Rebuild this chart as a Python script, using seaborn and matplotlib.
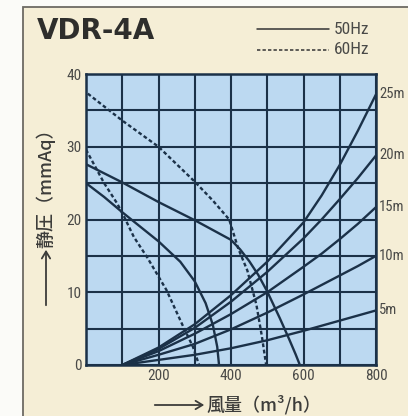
import matplotlib
matplotlib.use("Agg")
import matplotlib.pyplot as plt
import seaborn as sns
import pandas as pd
from matplotlib import font_manager as fm
from matplotlib.lines import Line2D
from matplotlib.patches import Rectangle, FancyArrowPatch
from matplotlib.ticker import FixedLocator, FixedFormatter

# ---------------- data ----------------
# 50Hz fan curves (solid)
s1_x = [0, 100, 200, 300, 400, 425, 450, 475, 500, 535, 560, 578, 590]
s1_y = [27.6, 25.1, 22.4, 19.9, 17.2, 15.9, 14.3, 12.4, 10.1, 6.4, 3.6, 1.5, 0.0]
s2_x = [0, 50, 100, 150, 200, 260, 300, 330, 350, 362, 367]
s2_y = [25.0, 23.1, 21.0, 19.0, 17.0, 14.2, 11.5, 8.5, 5.5, 2.5, 0.0]
# 60Hz fan curves (dashed)
d1_x = [5, 100, 200, 300, 350, 395, 420, 445, 470, 485, 497]
d1_y = [37.3, 33.6, 30.0, 25.2, 22.6, 20.0, 16.0, 13.0, 8.3, 4.0, 0.0]
d2_x = [0, 50, 86, 105, 132, 170, 222, 268, 295, 312]
d2_y = [29.6, 25.0, 22.2, 20.4, 17.6, 14.7, 10.3, 5.3, 2.5, 0.0]
# system resistance curves (duct length)
res_x = [100, 200, 300, 400, 500, 600, 650, 700, 750, 800]
res_5 = [0, 0.7, 1.4, 2.3, 3.4, 4.7, 5.4, 6.1, 6.8, 7.5]
res_10 = [0, 1.4, 2.9, 4.9, 7.2, 9.7, 11.0, 12.3, 13.6, 15.0]
res_15 = [0, 1.9, 4.3, 7.0, 10.0, 13.5, 15.3, 17.3, 19.4, 21.7]
res_20 = [0, 2.2, 5.1, 8.7, 12.8, 17.4, 20.0, 22.8, 25.7, 28.8]
res_25 = [0, 2.4, 5.6, 9.6, 14.2, 19.6, 23.3, 27.5, 32.2, 37.2]
res_labels = ["5m", "10m", "15m", "20m", "25m"]

x_ticks = [0, 100, 200, 300, 400, 500, 600, 700, 800]
x_tick_labels = ["", "", "200", "", "400", "", "600", "", "800"]
y_ticks = [0, 5, 10, 15, 20, 25, 30, 35, 40]
y_tick_labels = ["0", "", "10", "", "20", "", "30", "", "40"]

title = "VDR-4A"
legend_labels = ["50Hz", "60Hz"]
xlabel = "風量（m³/h）"
ylabel = "静圧（mmAq）"

# ---------------- style ----------------
def pick(cands):
    for c in cands:
        try:
            fm.findfont(fm.FontProperties(family=c), fallback_to_default=False)
            return c
        except Exception:
            pass
    return "DejaVu Sans"

sns.set_theme(style="white")
cond = pick(["Liberation Sans Narrow", "Roboto Condensed", "Liberation Sans"])
cjk = pick(["Noto Sans CJK JP", "Noto Sans CJK SC"])
plt.rcParams["font.family"] = [cjk, "DejaVu Sans"]

CREAM = "#f5eed6"
BLUE = "#bcd9f1"
NAVY = "#1b3148"
TXT = "#4a4a48"

W, H = 408, 416
fig = plt.figure(figsize=(W / 100, H / 100), dpi=100, facecolor="#fbfbf8")

def fx(px):
    return px / W

def fy(py):
    return 1 - py / H

# cream frame (behind everything)
fig.patches.append(Rectangle((fx(23), -0.1), 1.2, fy(7) + 0.1, transform=fig.transFigure,
                             facecolor=CREAM, edgecolor="#6d6a63", lw=1.3, zorder=-10))

ax = fig.add_axes([fx(86), fy(365), fx(376) - fx(86), fy(74) - fy(365)])
ax.set_zorder(5)
ax.set_facecolor(BLUE)

LW = 1.7
for xs, ys in [(s1_x, s1_y), (s2_x, s2_y)]:
    sns.lineplot(x=xs, y=ys, ax=ax, color=NAVY, lw=LW, estimator=None, sort=False)
for xs, ys in [(d1_x, d1_y), (d2_x, d2_y)]:
    sns.lineplot(x=xs, y=ys, ax=ax, color=NAVY, lw=LW, estimator=None, sort=False,
                 linestyle=(0, (1.6, 1.1)))
for ys, lab in zip([res_5, res_10, res_15, res_20, res_25], res_labels):
    sns.lineplot(x=res_x, y=ys, ax=ax, color=NAVY, lw=LW, estimator=None, sort=False)
    ax.text(808, ys[-1], lab, fontsize=10.5, fontfamily=cond, color=TXT,
            ha="left", va="center", clip_on=False)
ax.set_xlabel("")
ax.set_ylabel("")
if ax.get_legend():
    ax.get_legend().remove()

ax.set_xlim(0, 800)
ax.set_ylim(0, 40)
ax.xaxis.set_major_locator(FixedLocator(x_ticks))
ax.xaxis.set_major_formatter(FixedFormatter(x_tick_labels))
ax.yaxis.set_major_locator(FixedLocator(y_ticks))
ax.yaxis.set_major_formatter(FixedFormatter(y_tick_labels))
ax.grid(True, color=NAVY, lw=1.5)
ax.set_axisbelow(True)
ax.tick_params(length=0, pad=3, labelsize=11, labelcolor=TXT)
for lab in ax.get_xticklabels() + ax.get_yticklabels():
    lab.set_fontfamily(cond)
for sp in ax.spines.values():
    sp.set_color(NAVY)
    sp.set_linewidth(1.8)
    sp.set_visible(True)

# title
fig.text(fx(37), fy(39), title, fontsize=20, fontweight="bold", color="#2e2e2c",
         fontfamily="DejaVu Sans", ha="left", va="baseline")

# legend
fig.add_artist(Line2D([fx(257), fx(329)], [fy(29), fy(29)], transform=fig.transFigure,
                      color="#333333", lw=1.1))
fig.add_artist(Line2D([fx(257), fx(329)], [fy(50), fy(50)], transform=fig.transFigure,
                      color="#333333", lw=1.1, linestyle=(0, (2.2, 1.4))))
fig.text(fx(334), fy(29), legend_labels[0], fontsize=12.5, fontfamily=cond, color=TXT,
         ha="left", va="center")
fig.text(fx(334), fy(50), legend_labels[1], fontsize=12.5, fontfamily=cond, color=TXT,
         ha="left", va="center")

# axis labels with arrows
fig.add_artist(FancyArrowPatch((fx(152), fy(405)), (fx(207), fy(405)), transform=fig.transFigure,
                               arrowstyle="->,head_length=5,head_width=3", color="#3c3c3a",
                               lw=1.3, mutation_scale=1))
fig.text(fx(206), fy(405), xlabel, fontsize=13, fontweight="medium", color="#3c3c3a",
         ha="left", va="center")
fig.add_artist(FancyArrowPatch((fx(46), fy(308)), (fx(46), fy(247)), transform=fig.transFigure,
                               arrowstyle="->,head_length=5,head_width=3", color="#3c3c3a",
                               lw=1.3, mutation_scale=1))
fig.text(fx(46), fy(248), ylabel, fontsize=13, fontweight="medium", color="#3c3c3a",
         ha="center", va="bottom", rotation=90)

fig.savefig("out.png", dpi=100, facecolor=fig.get_facecolor())
